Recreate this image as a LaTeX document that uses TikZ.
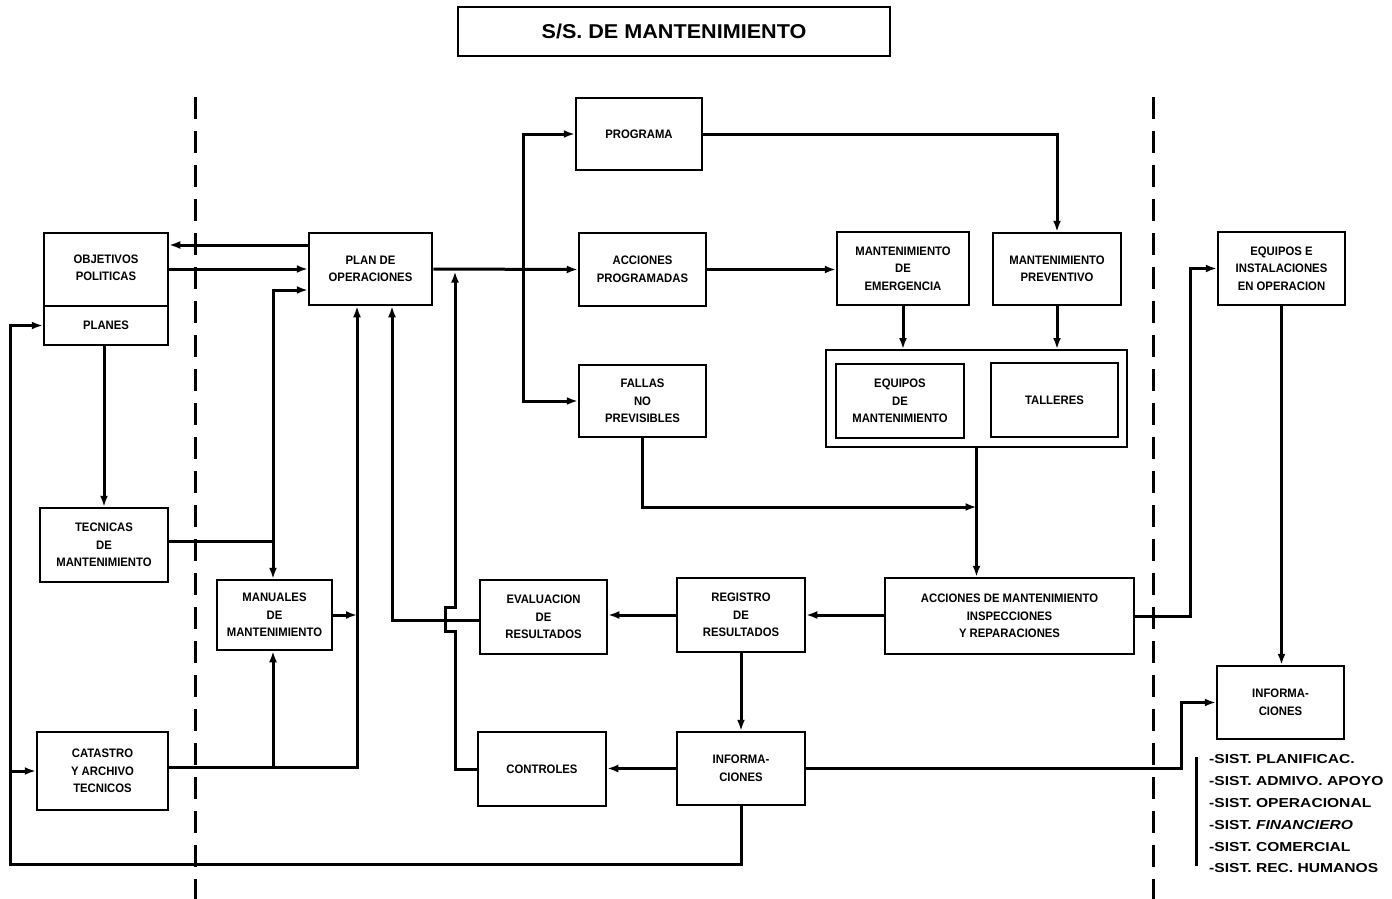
\documentclass[tikz,border=0pt]{standalone}
\usepackage{fontspec}
\setmainfont{Liberation Sans}
\newfontfamily\cond{Liberation Sans}[FakeStretch=0.92]
\newfontfamily\wide{Liberation Sans}[FakeStretch=1.08]
\newfontfamily\listf{Liberation Sans}[FakeStretch=1.2]
\usetikzlibrary{arrows.meta}
\begin{document}
\begin{tikzpicture}[x=1pt,y=-1pt,
  box/.style={draw, line width=2.5pt, inner sep=0pt, align=center,
    font=\cond\bfseries\fontsize{12.3}{17.5}\selectfont},
  conn/.style={line width=3pt},
  arr/.style={conn, -{Latex[length=11pt,width=8pt]}},
  divider/.style={line width=3pt, dash pattern=on 22pt off 12pt},
  sist/.style={anchor=west, inner sep=0pt, font=\listf\bfseries\fontsize{13}{15}\selectfont}]
\useasboundingbox (0,0) rectangle (1392,899);
\fill[white] (0,0) rectangle (1392,899);

% dividers
\draw[divider] (195,97) -- (195,899);
\draw[divider] (1153,97) -- (1153,899);

% title
\node[draw, line width=2pt, minimum width=432pt, minimum height=49pt, inner sep=0pt,
  font=\wide\bfseries\fontsize{20}{24}\selectfont] (title) at (674,31.5) {S/S. DE MANTENIMIENTO};

% boxes
\node[box, minimum width=124pt, minimum height=112pt] (obj) at (106,289) {};
\node[box, draw=none] (objt) at (106,268) {OBJETIVOS\\POLITICAS};
\node[box, draw=none] (planes) at (106,325.5) {PLANES};
\coordinate (ydiv) at (0,306);
\draw[line width=2.5pt] (obj.west |- ydiv) -- (obj.east |- ydiv);

\node[box, minimum width=123pt, minimum height=72pt] (plan) at (370.5,269) {PLAN DE\\OPERACIONES};
\node[box, minimum width=126pt, minimum height=72pt] (prog) at (639,134) {PROGRAMA};
\node[box, minimum width=127pt, minimum height=73pt] (accp) at (642.5,269.5) {ACCIONES\\PROGRAMADAS};
\node[box, minimum width=127pt, minimum height=72pt] (fallas) at (642.5,401) {FALLAS\\NO\\PREVISIBLES};
\node[box, minimum width=132pt, minimum height=73pt] (memerg) at (903,268.5) {MANTENIMIENTO\\DE\\EMERGENCIA};
\node[box, minimum width=128pt, minimum height=72pt] (mprev) at (1057,269) {MANTENIMIENTO\\PREVENTIVO};
\node[box, line width=2pt, minimum width=301pt, minimum height=97pt] (grp) at (976.5,398.5) {};
\node[box, minimum width=128pt, minimum height=74pt] (eqm) at (900,401) {EQUIPOS\\DE\\MANTENIMIENTO};
\node[box, minimum width=127pt, minimum height=74pt] (tall) at (1054.5,400) {TALLERES};
\node[box, minimum width=127pt, minimum height=73pt] (eqi) at (1281.5,268.5) {EQUIPOS E\\INSTALACIONES\\EN OPERACION};
\node[box, minimum width=128pt, minimum height=74pt] (tec) at (104,545) {TECNICAS\\DE\\MANTENIMIENTO};
\node[box, minimum width=115pt, minimum height=70pt] (man) at (274.5,615) {MANUALES\\DE\\MANTENIMIENTO};
\node[box, minimum width=131pt, minimum height=78pt] (cat) at (102.5,771) {CATASTRO\\Y ARCHIVO\\TECNICOS};
\node[box, minimum width=127pt, minimum height=74pt] (eval) at (543.5,617) {EVALUACION\\DE\\RESULTADOS};
\node[box, minimum width=128pt, minimum height=74pt] (reg) at (741,615) {REGISTRO\\DE\\RESULTADOS};
\node[box, minimum width=249pt, minimum height=76pt] (accm) at (1009.5,616) {ACCIONES DE MANTENIMIENTO\\INSPECCIONES\\Y REPARACIONES};
\node[box, minimum width=128pt, minimum height=74pt] (ctrl) at (542,769) {CONTROLES};
\node[box, minimum width=128pt, minimum height=73pt] (info) at (741,768.5) {INFORMA-\\CIONES};
\node[box, minimum width=127pt, minimum height=73pt] (infor) at (1280.5,702.5) {INFORMA-\\CIONES};

% helper coordinates
\coordinate (y245) at (0,245);
\coordinate (y290) at (0,290);
\coordinate (jt) at (273,541);
\coordinate (jc) at (273,767);
\coordinate (c357) at (357,767);
\coordinate (ev) at (392,620);
\coordinate (lb) at (10,864);
\coordinate (lt) at (10,325.5);
\coordinate (lm) at (10,771);
\coordinate (j1) at (523,269.5);
\coordinate (fy) at (0,507);
\coordinate (k) at (1181,0);
\coordinate (m) at (1190,0);
\coordinate (c1) at (455,769);
\coordinate (c2) at (455,631);
\coordinate (c3) at (445,631);
\coordinate (c4) at (445,607);
\coordinate (c5) at (455,607);
\coordinate (c6) at (455,271.5);

% connectors
\draw[arr] (plan.west |- y245) -- (obj.east |- y245);
\draw[arr] (obj.east |- plan.west) -- (plan.west);
\draw[conn] (tec.east |- jt) -- (jt);
\draw[arr] (jt) |- (plan.west |- y290);
\draw[arr] (jt) -- (jt |- man.north);
\draw[arr] (tec.north |- obj.south) -- (tec.north);
\draw[arr] (info.south) -- (info.south |- lb) -- (lb) -- (lt) -- (obj.west |- lt);
\draw[arr] (lm) -- (cat.west);
\draw[arr] (cat.east |- c357) -- (c357) -- (c357 |- plan.south);
\draw[arr] (jc) -- (jc |- man.south);
\draw[arr] (man.east) -- (man.east -| c357);
\draw[arr] (eval.west |- ev) -- (ev) -- (ev |- plan.south);
\draw[arr] (ctrl.west) -- (c1) -- (c2) -- (c3) -- (c4) -- (c5) -- (c6);
\draw[arr] (plan.east) -- (accp.west);
\draw[arr] (j1) |- (prog.west);
\draw[arr] (j1) |- (fallas.west);
\draw[arr] (prog.east) -| (mprev.north);
\draw[arr] (accp.east) -- (accp.east -| memerg.west);
\draw[arr] (memerg.south) -- (memerg.south |- grp.north);
\draw[arr] (mprev.south) -- (mprev.south |- grp.north);
\draw[arr] (grp.south) -- (grp.south |- accm.north);
\draw[arr] (fallas.south) |- (grp.south |- fy);
\draw[arr] (accm.west |- reg.east) -- (reg.east);
\draw[arr] (reg.west) -- (reg.west -| eval.east);
\draw[arr] (reg.south) -- (info.north);
\draw[arr] (info.west) -- (info.west -| ctrl.east);
\draw[arr] (info.east) -| (k |- infor.west) -- (infor.west);
\draw[arr] (accm.east) -| (m |- eqi.west) -- (eqi.west);
\draw[arr] (eqi.south) -- (eqi.south |- infor.north);

% list of systems
\draw[line width=3pt] (1196,757) -- (1196,866);
\node[sist] (s1) at (1209,759) {-SIST. PLANIFICAC.};
\node[sist] (s2) at (1209,781) {-SIST. ADMIVO. APOYO};
\node[sist] (s3) at (1209,803) {-SIST. OPERACIONAL};
\node[sist] (s4) at (1209,825) {-SIST. \textit{FINANCIERO}};
\node[sist] (s5) at (1209,847) {-SIST. COMERCIAL};
\node[sist] (s6) at (1209,868) {-SIST. REC. HUMANOS};
\end{tikzpicture}
\end{document}
